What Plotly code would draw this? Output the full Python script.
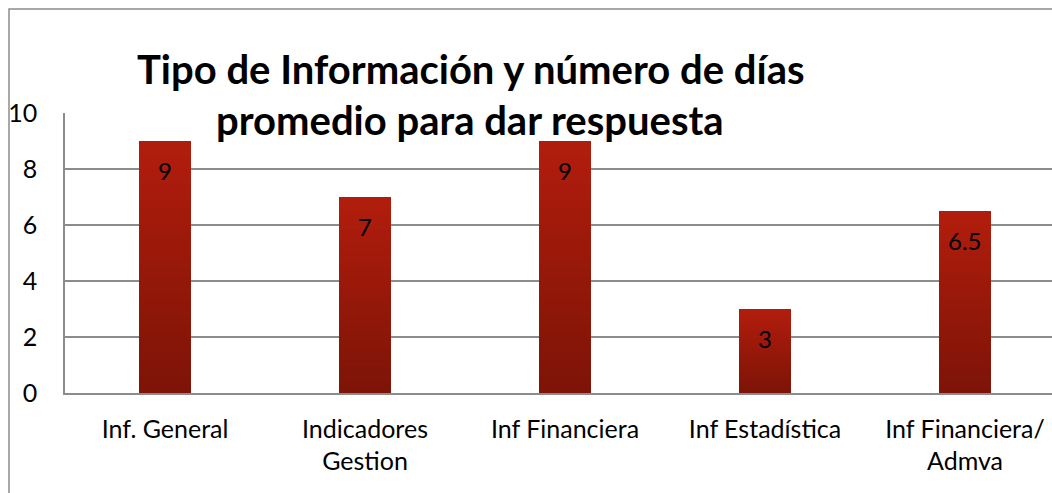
import plotly.graph_objects as go

categories = ["Inf. General", "Indicadores<br>Gestion", "Inf Financiera", "Inf Estadística", "Inf Financiera/<br>Admva"]
values = [9, 7, 9, 3, 6.5]
value_labels = ["9", "7", "9", "3", "6.5"]
y_ticks = [0, 2, 4, 6, 8, 10]

W, H = 1052, 493
L, T = 65, 113
PW = W - L
PH = 280
B = H - T - PH
CAT_PX = 200

top_rgb = (178, 29, 13)
bot_rgb = (124, 20, 7)
N = 30

def px_y(y_page):
    return 1 + (T - y_page) / PH

def px_x(x_page):
    return (x_page - L) / PW

x_pos = list(range(len(categories)))
fig = go.Figure()
for k in range(N):
    frac_top = (N - k) / N
    f = (N - k - 0.5) / N
    col = tuple(round(bot_rgb[i] + (top_rgb[i] - bot_rgb[i]) * f) for i in range(3))
    fig.add_trace(go.Bar(
        x=x_pos, y=[v * frac_top for v in values],
        width=0.26, marker=dict(color="rgb(%d,%d,%d)" % col, line=dict(width=0)),
        hoverinfo="skip", showlegend=False,
    ))

for xi, v, lab in zip(x_pos, values, value_labels):
    fig.add_annotation(x=xi, y=v, text=lab, showarrow=False, yanchor="middle",
                       yshift=-29, font=dict(family="Lato", size=24, color="black"))

# Title lines
fig.add_annotation(xref="paper", yref="paper", x=px_x(471), y=px_y(69),
                   text="Tipo de Información y número de días", showarrow=False,
                   xanchor="center", yanchor="middle",
                   font=dict(family="Lato", size=40, color="black", weight="bold"))
fig.add_annotation(xref="paper", yref="paper", x=px_x(470), y=px_y(120),
                   text="promedio para dar respuesta", showarrow=False,
                   xanchor="center", yanchor="middle",
                   font=dict(family="Lato", size=40, color="black", weight="bold"))

# outer chart border
fig.add_shape(type="rect", xref="paper", yref="paper",
              x0=px_x(9), x1=px_x(1080),
              y0=px_y(520), y1=px_y(9),
              line=dict(color="#8c8c8c", width=1.5), fillcolor="rgba(0,0,0,0)", layer="below")

fig.update_layout(
    width=W, height=H,
    margin=dict(l=L, r=0, t=T, b=B, pad=0),
    barmode="overlay",
    plot_bgcolor="white", paper_bgcolor="white",
    font=dict(family="Lato", size=25, color="black"),
    showlegend=False,
)
fig.update_xaxes(
    range=[-0.5, -0.5 + PW / CAT_PX],
    tickvals=x_pos, ticktext=categories,
    showgrid=False, zeroline=False,
    showline=True, linecolor="#8c8c8c", linewidth=1.5,
    ticks="", ticklabelstandoff=13,
    tickfont=dict(family="Lato", size=25, color="black"),
)
fig.update_yaxes(
    range=[0, 10], tickvals=y_ticks,
    showgrid=True, gridcolor="#8c8c8c", gridwidth=1.5,
    zeroline=False, showline=True, linecolor="#8c8c8c", linewidth=1.5,
    ticks="", ticklabelstandoff=21,
    tickfont=dict(family="Lato", size=25, color="black"),
)

fig.write_html(
    "out.html",
    config={"displayModeBar": False},
    post_script="document.body.style.margin='0';document.body.style.overflow='hidden';",
)
